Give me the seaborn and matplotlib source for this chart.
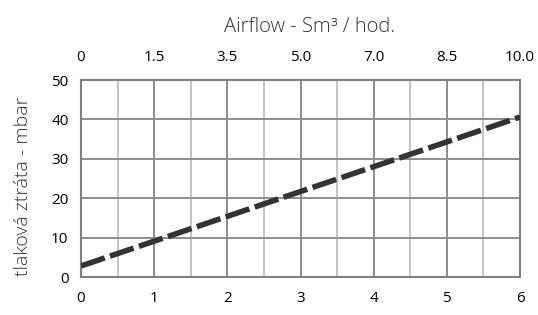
import numpy as np
import pandas as pd
import matplotlib
matplotlib.use("Agg")
import matplotlib.pyplot as plt
import seaborn as sns

# pressure drop vs. flow (straight line)
flow = [0, 6]
pressure = [2.8, 40.6]

bottom_ticks = [0, 1, 2, 3, 4, 5, 6]
top_labels = ["0", "1.5", "3.5", "5.0", "7.0", "8.5", "10.0"]
y_ticks = [0, 10, 20, 30, 40, 50]

df = pd.DataFrame({"flow": flow, "pressure": pressure})

sns.set_style("white")
plt.rcParams['font.family'] = ['Open Sans', 'DejaVu Sans']

fig = plt.figure(figsize=(5.38, 3.15), dpi=100)
ax = fig.add_axes([0.1506, 0.1206, 0.816, 0.6254])

# grid: darker lines on whole units, lighter on halves
for x in np.arange(0.5, 6, 0.5):
    c = "#8c8c8c" if x % 1 == 0 else "#c4c4c4"
    ax.axvline(x, color=c, lw=1.4, zorder=1)
for y in y_ticks[1:-1]:
    ax.axhline(y, color="#8c8c8c", lw=1.4, zorder=1)

sns.lineplot(data=df, x="flow", y="pressure", ax=ax, color="#333333",
             lw=4, linestyle=(0, (4.5, 1)), zorder=3)

ax.set_xlim(0, 6)
ax.set_ylim(0, 50)
ax.set_xticks(bottom_ticks)
ax.set_yticks(y_ticks)
ax.tick_params(length=0, labelsize=11, pad=9, labelcolor="black")
ax.tick_params(axis="x", pad=10)
ax.set_xlabel("")
ax.set_ylabel("tlaková ztráta - mbar", fontsize=14, fontweight="light",
              color="#333333")
ax.yaxis.set_label_coords(-0.112, 0.46)
for s in ax.spines.values():
    s.set_color("#808080")
    s.set_linewidth(1.5)

top = ax.secondary_xaxis("top")
top.set_xticks(bottom_ticks)
top.set_xticklabels(top_labels)
top.tick_params(length=0, labelsize=11, pad=11, labelcolor="black")
top.spines["top"].set_visible(False)

fig.text(310 / 538, 1 - 32 / 315, "Airflow - Sm³ / hod.", fontsize=14.5,
         fontweight="light", color="#333333", ha="center", va="baseline")

fig.savefig("out.png", dpi=100)
